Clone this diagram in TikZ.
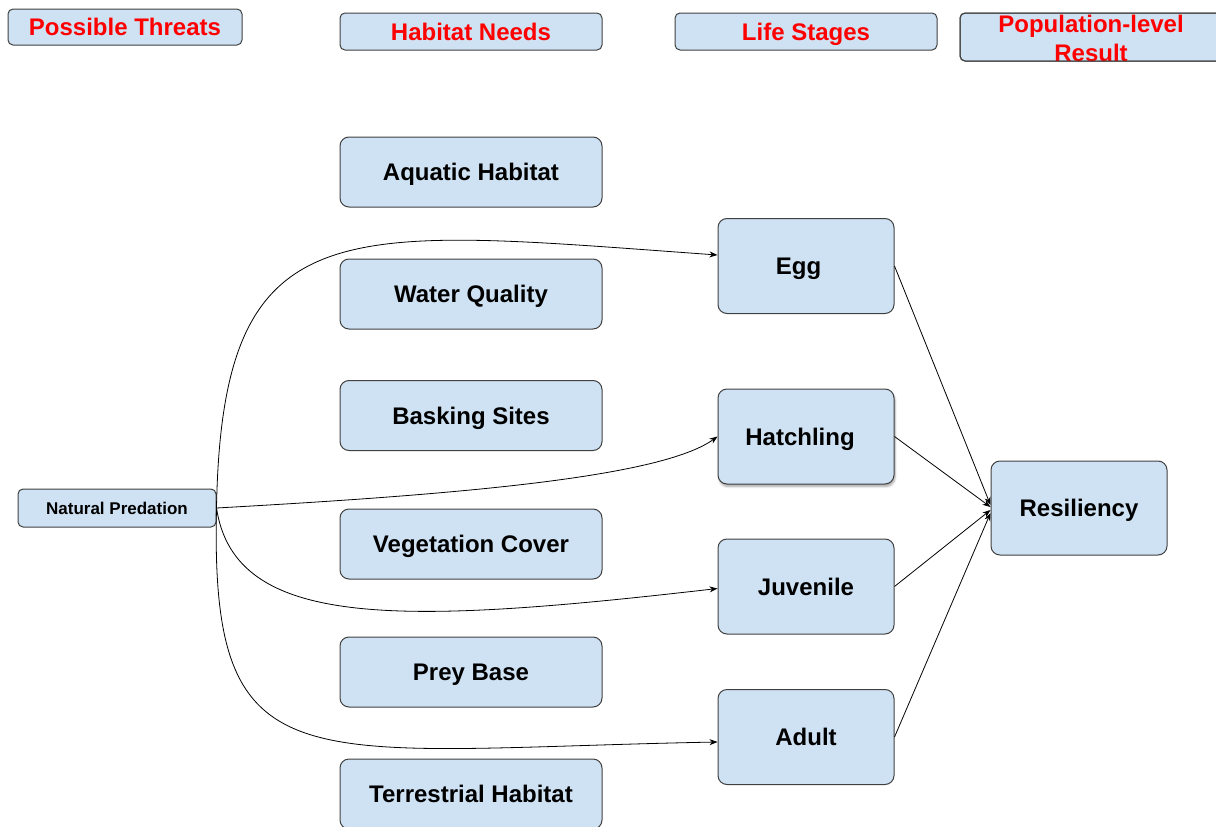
\documentclass[tikz,border=0pt]{standalone}
\usepackage{fontspec}
\setmainfont{Liberation Sans}
\usetikzlibrary{arrows.meta,shadows.blur}
\definecolor{boxfill}{HTML}{CFE2F3}
\definecolor{boxline}{HTML}{404040}
\definecolor{headred}{HTML}{FF0000}
\begin{document}
\begin{tikzpicture}[x=1pt,y=-1pt,
  box/.style={draw=boxline,fill=boxfill,line width=1pt,rounded corners=9pt,inner sep=0pt,
    text height=17.5pt,text depth=0pt,font=\fontsize{24}{28}\selectfont\bfseries},
  habitat/.style={box,minimum width=262pt,minimum height=70pt},
  stage/.style={box,minimum width=176pt,minimum height=95pt},
  head/.style={box,rounded corners=5pt,text=headred,minimum width=262pt,minimum height=37pt},
  conn/.style={line width=0.8pt,-{Stealth[length=8pt,width=6pt]}}]
\useasboundingbox (0,0) rectangle (1216,827);
\clip (0,0) rectangle (1216,827);

% column headings
\node[head,minimum width=234pt,minimum height=36pt] (hthreat) at (125,27) {Possible Threats};
\node[head] (hneeds) at (471,31.5) {Habitat Needs};
\node[head] (hstages) at (806,31.5) {Life Stages};
\node[head,minimum height=48pt] (hresult) at (1091,37) {};
\begin{scope}
  \clip (960,13) rectangle (1222,61);
  \node[text=headred,font=\fontsize{24}{28}\selectfont\bfseries,anchor=base] (hresultA) at (1091,32) {Population-level};
  \node[text=headred,font=\fontsize{24}{28}\selectfont\bfseries,anchor=base] (hresultB) at (1091,61) {Result};
\end{scope}
\draw[boxline,line width=1pt,rounded corners=5pt] (960,13) rectangle (1222,61);

% threat
\node[box,rounded corners=5pt,minimum width=198pt,minimum height=38pt,text height=12.5pt,
  font=\fontsize{17}{20}\selectfont\bfseries] (np) at (117,508) {Natural Predation};

% habitat needs
\node[habitat] (aquatic) at (471,172) {Aquatic Habitat};
\node[habitat] (water) at (471,294) {Water Quality};
\node[habitat] (basking) at (471,415.5) {Basking Sites};
\node[habitat] (veg) at (471,544) {Vegetation Cover};
\node[habitat] (prey) at (471,672) {Prey Base};
\node[habitat] (terr) at (471,794) {Terrestrial Habitat};

% life stages
\node[stage] (egg) at (806,266) {\hspace*{-15pt}Egg};
\node[stage,blur shadow={shadow xshift=1pt,shadow yshift=-2.5pt,shadow blur steps=6,shadow opacity=35}] (hatch) at (806,436.5) {\hspace*{-12pt}Hatchling};
\node[stage] (juv) at (806,586.5) {Juvenile};
\node[stage] (adult) at (806,737) {Adult};

% result
\node[stage,minimum height=94pt] (res) at (1079,508) {Resiliency};

% predation to life stages
\draw[conn] (np.east) .. controls (222,205) and (340,228) .. ([yshift=11pt]egg.west);
\draw[conn] (np.east) .. controls (450,495) and (660,478) .. (hatch.west);
\draw[conn] (np.east) .. controls (235,630) and (400,625) .. ([yshift=-2pt]juv.west);
\draw[conn] (np.east) .. controls (210,790) and (300,750) .. ([yshift=-5pt]adult.west);

% life stages to resiliency
\draw[conn] (egg.east) -- ([yshift=3pt]res.west);
\draw[conn] (hatch.east) -- ([yshift=1pt]res.west);
\draw[conn] (juv.east) -- ([yshift=-2pt]res.west);
\draw[conn] (adult.east) -- ([yshift=-5pt]res.west);
\end{tikzpicture}
\end{document}
